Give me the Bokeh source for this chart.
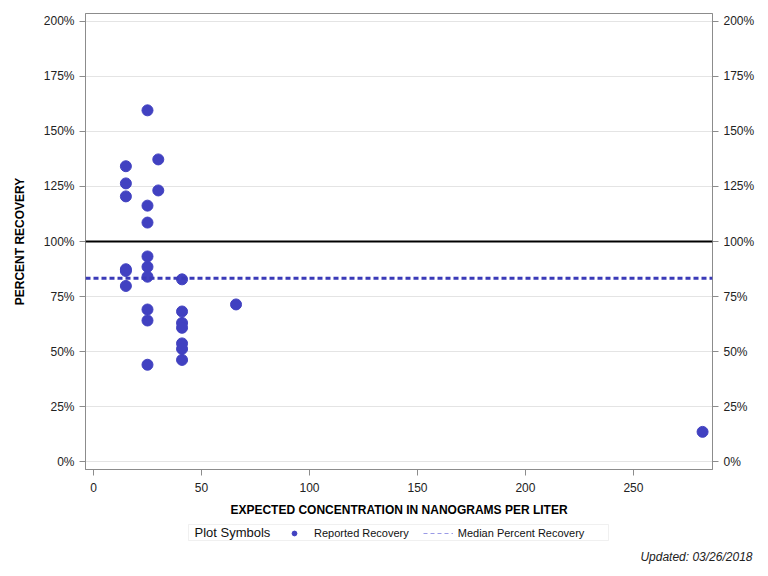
from bokeh.plotting import figure
from bokeh.layouts import column
from bokeh.models import (LinearAxis, FixedTicker, PrintfTickFormatter, Span, Legend, LegendItem,
                          ColumnDataSource, Label, Range1d, BoxAnnotation)
from bokeh.embed import file_html
from bokeh.resources import INLINE

# Data
expected_conc = [15, 15, 15, 15, 15, 15,
                 25, 25, 25, 25, 25, 25, 25, 25, 25,
                 30, 30,
                 41, 41, 41, 41, 41, 41, 41,
                 66, 282]
percent_recovery = [134.2, 126.4, 120.5, 87.4, 86.6, 79.8,
                    159.6, 116.3, 108.6, 93.2, 88.5, 84.0, 69.1, 64.1, 44.0,
                    137.3, 123.2,
                    82.8, 68.2, 63.0, 60.8, 53.7, 51.2, 46.2,
                    71.4, 13.5]
median_recovery = 83.3
reference_line = 100
y_ticks = [0, 25, 50, 75, 100, 125, 150, 175, 200]
x_ticks = [0, 50, 100, 150, 200, 250]
legend_title = "Plot Symbols"
legend_labels = ["Reported Recovery", "Median Percent Recovery"]
updated_text = "Updated: 03/26/2018"

FONT = "Liberation Sans"
GRAY = "#8c8c8c"
PT = "#4141c1"

p = figure(width=768, height=520, output_backend="svg", toolbar_location=None,
           x_range=Range1d(-3.7, 286.6), y_range=Range1d(-3.6, 203.6),
           min_border_left=85, min_border_right=56, min_border_top=13, min_border_bottom=51)
p.outline_line_color = GRAY
p.xgrid.visible = False
p.ygrid.grid_line_color = "#e4e4e4"
p.ygrid.ticker = FixedTicker(ticks=y_ticks)

p.xaxis.ticker = FixedTicker(ticks=x_ticks)
p.yaxis.ticker = FixedTicker(ticks=y_ticks)
p.yaxis.formatter = PrintfTickFormatter(format="%d%%")
p.xaxis.axis_label = "EXPECTED CONCENTRATION IN NANOGRAMS PER LITER"
p.yaxis.axis_label = "PERCENT RECOVERY"

right = LinearAxis(ticker=FixedTicker(ticks=y_ticks), formatter=PrintfTickFormatter(format="%d%%"))
p.add_layout(right, "right")

for ax in [p.xaxis[0], p.yaxis[0], right]:
    ax.axis_line_color = GRAY
    ax.major_tick_line_color = GRAY
    ax.major_tick_in = 0
    ax.major_tick_out = 6
    ax.minor_tick_line_color = None
    ax.major_label_text_font = FONT
    ax.major_label_text_font_size = "12px"
    ax.major_label_text_color = "#222222"
    ax.axis_label_text_font = FONT
    ax.axis_label_text_font_size = "12px"
    ax.axis_label_text_font_style = "bold"
    ax.axis_label_text_color = "#000000"

p.xaxis.major_label_standoff = 7
p.xaxis.axis_label_standoff = 8
p.yaxis[0].axis_label_standoff = 14

p.add_layout(Span(location=reference_line, dimension="width", line_color="black", line_width=2))
p.add_layout(Span(location=median_recovery, dimension="width", line_color="#3a3ab8",
                  line_width=3, line_dash="5 3"))

src = ColumnDataSource(dict(x=expected_conc, y=percent_recovery))
p.scatter("x", "y", source=src, size=11, fill_color=PT, line_color=PT)

# Legend strip below the plot (frame left at 85 like the main plot)
lf = figure(width=768, height=56, output_backend="svg", toolbar_location=None,
            x_range=Range1d(0, 1), y_range=Range1d(0, 1), x_axis_type=None, y_axis_type=None,
            min_border_left=85, min_border_right=0, min_border_top=0, min_border_bottom=0)
try:
    lf.frame_align = False
except AttributeError:
    pass
lf.outline_line_color = None
lf.grid.visible = False
offscreen = ColumnDataSource(dict(x=[5, 6], y=[5, 6]))
pt_leg = lf.scatter("x", "y", source=offscreen, size=9, fill_color=PT, line_color=PT)
med_leg = lf.line("x", "y", source=offscreen, line_color="#9a9ae6", line_width=1, line_dash="4 3")

lf.add_layout(BoxAnnotation(left=103, right=523, bottom=36, top=52,
                            left_units="screen", right_units="screen",
                            bottom_units="screen", top_units="screen",
                            fill_alpha=0, line_color="#cccccc", line_width=1))

legend = Legend(items=[LegendItem(label=legend_labels[0], renderers=[pt_leg]),
                       LegendItem(label=legend_labels[1], renderers=[med_leg])],
                orientation="horizontal", location=(194, 37))
legend.label_text_font = FONT
legend.label_text_font_size = "11px"
legend.label_text_color = "#111111"
legend.border_line_color = None
legend.background_fill_alpha = 0
legend.glyph_width = 30
legend.glyph_height = 12
legend.label_height = 12
legend.padding = 1
legend.spacing = 14
legend.margin = 0
legend.label_standoff = 5
lf.add_layout(legend)

lf.add_layout(Label(x=109, y=44, x_units="screen", y_units="screen", text=legend_title,
                    text_align="left", text_baseline="middle", text_font=FONT,
                    text_font_size="13px", text_color="#111111"))
lf.add_layout(Label(x=667, y=20, x_units="screen", y_units="screen", text=updated_text,
                    text_align="right", text_baseline="middle", text_font=FONT,
                    text_font_size="12px", text_font_style="italic", text_color="#222222"))

open("out.html", "w").write(file_html(column(p, lf), INLINE))
